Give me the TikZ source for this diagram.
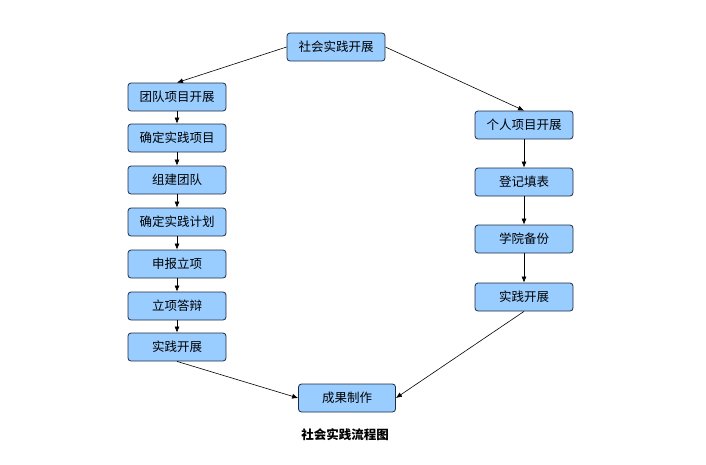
\documentclass[tikz,border=0pt]{standalone}
\usepackage{fontspec}
\newfontfamily\cjk{Noto Sans CJK SC}
\usetikzlibrary{arrows.meta}
\definecolor{boxfill}{RGB}{153,204,255}
\definecolor{boxline}{RGB}{30,45,70}
\tikzset{
  stepbox/.style={draw=boxline, fill=boxfill, rounded corners=3pt, line width=0.8pt,
    minimum width=98pt, minimum height=28pt, inner sep=0pt,
    font=\cjk\fontsize{12.5}{14}\selectfont},
  flow/.style={-{Latex[length=6pt,width=5pt]}, line width=0.6pt}
}
\begin{document}
\begin{tikzpicture}[x=1pt, y=-1pt]
      \useasboundingbox[fill=white] (0,0) rectangle (706,464);
      \node[stepbox] (top) at (336,47) {社会实践开展};
      \node[stepbox] (l1) at (177,97) {团队项目开展};
      \node[stepbox] (l2) at (177,138) {确定实践项目};
      \node[stepbox] (l3) at (177,180) {组建团队};
      \node[stepbox] (l4) at (177,222) {确定实践计划};
      \node[stepbox] (l5) at (177,264) {申报立项};
      \node[stepbox] (l6) at (177,306) {立项答辩};
      \node[stepbox] (l7) at (177,347) {实践开展};
      \node[stepbox] (r1) at (524,125) {个人项目开展};
      \node[stepbox] (r2) at (524,182) {登记填表};
      \node[stepbox] (r3) at (524,239) {学院备份};
      \node[stepbox] (r4) at (524,297) {实践开展};
      \node[stepbox, minimum width=97pt] (res) at (347,398) {成果制作};
      \node[font=\cjk\bfseries\fontsize{12.5}{14}\selectfont] (title) at (345,435) {社会实践流程图};
      \begin{scope}[flow]
        \draw (top.west) to (l1.north);
        \draw (top.east) to (r1.north);
        \draw (l1) to (l2);
        \draw (l2) to (l3);
        \draw (l3) to (l4);
        \draw (l4) to (l5);
        \draw (l5) to (l6);
        \draw (l6) to (l7);
        \draw (r1) to (r2);
        \draw (r2) to (r3);
        \draw (r3) to (r4);
        \draw (l7.south) to (res.west);
        \draw (r4.south) to (res.east);
      \end{scope}
    \end{tikzpicture}
\end{document}
